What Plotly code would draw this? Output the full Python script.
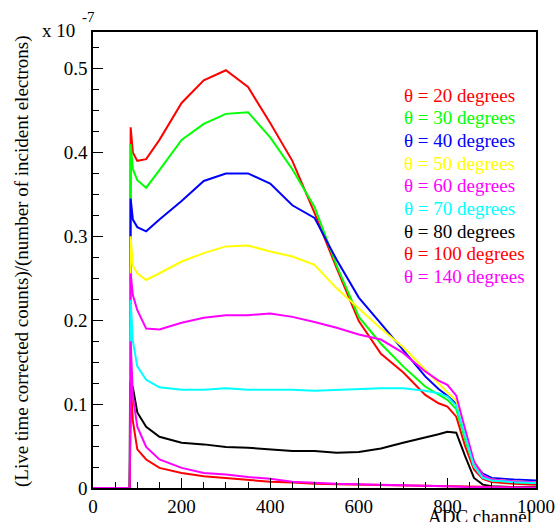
import plotly.graph_objects as go

CHANNELS = [0, 83, 85, 90, 100, 120, 150, 200, 250, 300, 350, 400, 450, 500,
            550, 600, 650, 700, 750, 780, 800, 820, 840, 860, 880, 900, 950, 1000]

# Counts per incident electron, in units of 1e-7
T20 = [0, 0, 0.43, 0.40, 0.39, 0.392, 0.415, 0.459, 0.486, 0.498, 0.478, 0.435, 0.39, 0.328,
       0.262, 0.199, 0.16, 0.138, 0.111, 0.101, 0.097, 0.085, 0.05, 0.022, 0.011, 0.007, 0.005, 0.004]
T30 = [0, 0, 0.41, 0.38, 0.367, 0.358, 0.379, 0.415, 0.434, 0.446, 0.448, 0.418, 0.38, 0.335,
       0.265, 0.204, 0.172, 0.145, 0.121, 0.111, 0.105, 0.094, 0.058, 0.026, 0.013, 0.009, 0.007, 0.006]
T40 = [0, 0, 0.345, 0.32, 0.311, 0.306, 0.32, 0.342, 0.366, 0.375, 0.375, 0.363, 0.337, 0.322,
       0.272, 0.227, 0.196, 0.165, 0.133, 0.118, 0.11, 0.1, 0.066, 0.03, 0.017, 0.012, 0.01, 0.009]
T50 = [0, 0, 0.30, 0.265, 0.256, 0.248, 0.256, 0.27, 0.28, 0.288, 0.289, 0.282, 0.276, 0.266,
       0.238, 0.214, 0.19, 0.168, 0.141, 0.124, 0.114, 0.104, 0.068, 0.031, 0.015, 0.01, 0.008, 0.007]
T60 = [0, 0, 0.256, 0.23, 0.212, 0.19, 0.189, 0.197, 0.203, 0.206, 0.206, 0.208, 0.204, 0.198,
       0.191, 0.183, 0.177, 0.161, 0.139, 0.128, 0.123, 0.11, 0.07, 0.032, 0.015, 0.01, 0.008, 0.007]
T70 = [0, 0, 0.224, 0.175, 0.145, 0.129, 0.12, 0.117, 0.117, 0.119, 0.117, 0.117, 0.117, 0.116,
       0.117, 0.118, 0.119, 0.119, 0.116, 0.113, 0.109, 0.098, 0.062, 0.026, 0.012, 0.009, 0.007, 0.006]
T80 = [0, 0, 0.125, 0.12, 0.09, 0.073, 0.061, 0.054, 0.052, 0.049, 0.048, 0.046, 0.044, 0.044,
       0.042, 0.043, 0.047, 0.054, 0.06, 0.064, 0.067, 0.066, 0.038, 0.012, 0.004, 0.002, 0.001, 0.001]
T100 = [0, 0, 0.127, 0.08, 0.046, 0.034, 0.024, 0.018, 0.014, 0.012, 0.010, 0.0075, 0.0065, 0.005,
        0.0045, 0.004, 0.0035, 0.003, 0.0025, 0.002, 0.002, 0.0015, 0.001, 0.0008, 0.0005, 0.0005, 0.0003, 0.0002]
T140 = [0, 0, 0.175, 0.11, 0.073, 0.049, 0.034, 0.024, 0.018, 0.016, 0.013, 0.011, 0.0075, 0.006,
        0.005, 0.0045, 0.004, 0.0035, 0.003, 0.0025, 0.002, 0.0018, 0.0012, 0.001, 0.0007, 0.0005, 0.0003, 0.0002]

# (label, values, colour), drawn in this order so the 140-degree curve ends on top
SERIES = [
    ("θ = 20 degrees", T20, "#ff0000"),
    ("θ = 30 degrees", T30, "#00ff00"),
    ("θ = 40 degrees", T40, "#0000ff"),
    ("θ = 50 degrees", T50, "#ffff00"),
    ("θ = 60 degrees", T60, "#ff00ff"),
    ("θ = 70 degrees", T70, "#00ffff"),
    ("θ = 80 degrees", T80, "#000000"),
    ("θ = 100 degrees", T100, "#ff0000"),
    ("θ = 140 degrees", T140, "#ff00ff"),
]

X_TICKS = [0, 200, 400, 600, 800, 1000]
Y_TICKS = [0, 0.1, 0.2, 0.3, 0.4, 0.5]
Y_TICK_LABELS = ["0", "0.1", "0.2", "0.3", "0.4", "0.5"]

FONT = "Liberation Serif, DejaVu Serif, Times New Roman, serif"

# plot box in pixels: left 93, right 536, top 32, bottom 488
L, R, T, B = 93, 536, 32, 488


def px(x):
    return (x - L) / (R - L)


def py(y):
    return (B - y) / (B - T)


fig = go.Figure()
for label, vals, color in SERIES:
    fig.add_trace(go.Scatter(x=CHANNELS, y=vals, mode="lines", name=label,
                             line=dict(color=color, width=2), showlegend=False))

# coloured key, one text line per angle
for i, (label, _, color) in enumerate(SERIES):
    fig.add_annotation(text=label, xref="paper", yref="paper",
                       x=px(402), y=py(95 + i * 22.7),
                       xanchor="left", yanchor="middle", showarrow=False,
                       font=dict(family=FONT, size=19, color=color))

# exponent marker above the y axis
fig.add_annotation(text="x 10", xref="paper", yref="paper", x=px(40), y=py(31),
                   xanchor="left", yanchor="middle", showarrow=False,
                   font=dict(family=FONT, size=19, color="black"))
fig.add_annotation(text="-7", xref="paper", yref="paper", x=px(80), y=py(17),
                   xanchor="left", yanchor="middle", showarrow=False,
                   font=dict(family=FONT, size=15, color="black"))

# axis titles
fig.add_annotation(text="(Live time corrected counts)/(number of incident electrons)",
                   xref="paper", yref="paper", x=px(22), y=py(261), textangle=-90,
                   xanchor="center", yanchor="middle", showarrow=False,
                   font=dict(family=FONT, size=19, color="black"))
fig.add_annotation(text="ADC channel", xref="paper", yref="paper", x=px(534),
                   y=py(504), xanchor="right", yanchor="top", showarrow=False,
                   font=dict(family=FONT, size=19, color="black"))

fig.update_layout(
    width=557, height=522,
    margin=dict(l=L, r=557 - R, t=T, b=522 - B),
    paper_bgcolor="white", plot_bgcolor="white",
    font=dict(family=FONT, size=19, color="black"),
)
fig.update_xaxes(
    range=[0, 1000], tickvals=X_TICKS, ticks="inside", ticklen=10, tickcolor="black",
    showgrid=False, zeroline=False, showline=True, linecolor="black", linewidth=1.5, mirror=True,
    minor=dict(dtick=50, ticks="inside", ticklen=6, tickcolor="black"),
    tickfont=dict(family=FONT, size=19), automargin=False,
)
fig.update_yaxes(
    range=[0, 0.5436], tickvals=Y_TICKS, ticktext=Y_TICK_LABELS, ticks="inside", ticklen=10,
    tickcolor="black", showgrid=False, zeroline=False, showline=True, linecolor="black",
    linewidth=1.5, mirror=True,
    minor=dict(dtick=0.025, ticks="inside", ticklen=6, tickcolor="black"),
    tickfont=dict(family=FONT, size=19), automargin=False,
)

# drop the browser's default page margin so the figure sits at the window corner
fig.write_html("out.html", config={"displayModeBar": False},
               post_script="document.body.style.margin='0';")
